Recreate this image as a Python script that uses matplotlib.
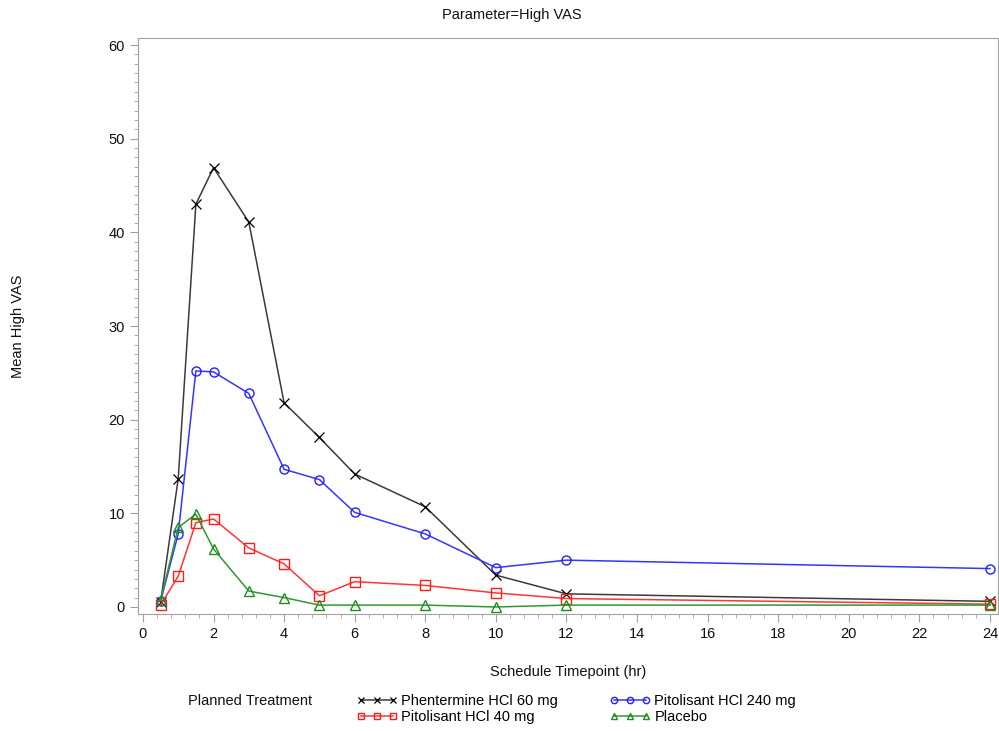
import numpy as np
import matplotlib
matplotlib.use("Agg")
import matplotlib.pyplot as plt
from matplotlib.ticker import MultipleLocator

plt.rcParams['font.family'] = ['Liberation Sans', 'DejaVu Sans']

times = [0.5, 1, 1.5, 2, 3, 4, 5, 6, 8, 10, 12, 24]
phentermine_60 = [0.5, 13.7, 43.0, 46.9, 41.1, 21.8, 18.1, 14.2, 10.7, 3.4, 1.4, 0.6]
pitolisant_240 = [0.6, 7.8, 25.2, 25.1, 22.8, 14.7, 13.6, 10.1, 7.8, 4.2, 5.0, 4.1]
pitolisant_40 = [0.2, 3.3, 9.0, 9.4, 6.3, 4.6, 1.2, 2.7, 2.3, 1.5, 0.9, 0.3]
placebo = [0.7, 8.5, 9.9, 6.2, 1.7, 1.0, 0.2, 0.2, 0.2, 0.0, 0.2, 0.2]

fig = plt.figure(figsize=(9.99, 7.31), dpi=100)
ax = fig.add_axes([138 / 999, 1 - 614 / 731, 860 / 999, 576 / 731])

h1, = ax.plot(times, phentermine_60, color='#3a3a3a', lw=1.1, marker='x', ms=6.5,
              mec='black', mew=0.9, label='Phentermine HCl 60 mg')
h2, = ax.plot(times, pitolisant_240, color='#3535ff', lw=1.1, marker='o', ms=6.5,
              mfc='none', mec='#2020ff', mew=1.0, label='Pitolisant HCl 240 mg')
h3, = ax.plot(times, pitolisant_40, color='#ff3535', lw=1.1, marker='s', ms=6.5,
              mfc='none', mec='#ff1a1a', mew=1.0, label='Pitolisant HCl 40 mg')
h4, = ax.plot(times, placebo, color='#2e992e', lw=1.1, marker='^', ms=6.5,
              mfc='none', mec='#1f8c1f', mew=1.0, label='Placebo')

ax.set_xlim(-0.14, 24.23)
ax.set_ylim(-0.75, 60.75)
ax.xaxis.set_major_locator(MultipleLocator(2))
ax.xaxis.set_minor_locator(MultipleLocator(0.4))
ax.yaxis.set_major_locator(MultipleLocator(10))
ax.yaxis.set_minor_locator(MultipleLocator(1))

for s in ax.spines.values():
    s.set_color('#a0a0a0')
ax.tick_params(which='both', color='#a0a0a0', labelsize=10.5, labelcolor='#111111')
ax.tick_params(which='major', length=6)
ax.tick_params(which='minor', length=3)

ax.set_xlabel('Schedule Timepoint (hr)', fontsize=10.5, labelpad=17, color='#111111')
ax.set_ylabel('Mean High VAS', fontsize=10.5, labelpad=60, color='#111111')
fig.text(512 / 999, 1 - 15 / 731, 'Parameter=High VAS', fontsize=10.5,
         ha='center', va='center', color='#111111')

fig.text(188 / 999, 1 - 701 / 731, 'Planned Treatment', fontsize=10.5,
         va='center', ha='left', color='#111111')
fig.legend([h1, h3, h2, h4],
           [h1.get_label(), h3.get_label(), h2.get_label(), h4.get_label()],
           ncol=2, loc='center left', bbox_to_anchor=(343 / 999, 1 - 709 / 731),
           frameon=False, numpoints=3, handlelength=2.8, handletextpad=0.3,
           columnspacing=3.5, labelspacing=0.15, fontsize=10.5, markerscale=0.7)

fig.savefig('out.png', dpi=100)
